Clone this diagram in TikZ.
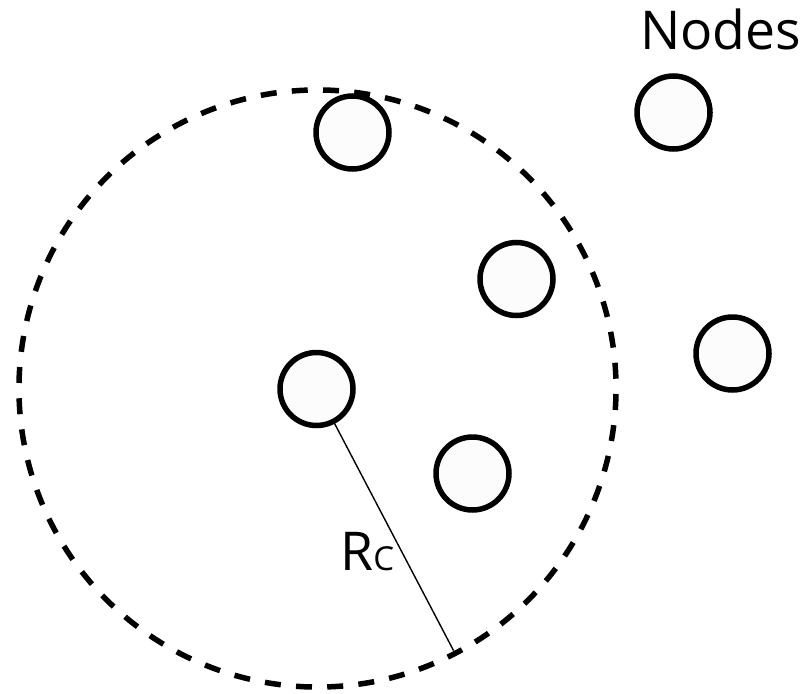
\documentclass[tikz,border=0pt]{standalone}
\usepackage{fontspec}
\setmainfont{Open Sans}
\begin{document}
\begin{tikzpicture}[x=1pt,y=-1pt,
  sensor/.style={circle, draw=black, line width=5.5pt, fill=white!99!black,
    minimum size=73pt, inner sep=0pt, outer sep=0pt},
  commrange/.style={draw=black, line width=5.5pt,
    dash pattern=on 16pt off 15.26pt, dash phase=8pt},
  radius line/.style={draw=black, line width=1.4pt},
  label text/.style={inner sep=0pt, font=\fontsize{53.5}{53.5}\selectfont}]
  \useasboundingbox (0,0) rectangle (805,693);

  % communication range around the central node
  \coordinate (rc) at (317.5,388.5);
  \draw[commrange] (rc) ++(62.6:298.5) arc[start angle=62.6, end angle=422.6, radius=298.5];

  % nodes
  \node[sensor] (c0) at (316.5,389) {};
  \node[sensor] (n1) at (352.5,132.5) {};
  \node[sensor] (n2) at (673.5,112.5) {};
  \node[sensor] (n3) at (516.5,279) {};
  \node[sensor] (n4) at (732.5,353.5) {};
  \node[sensor] (n5) at (472.5,473.5) {};

  % radius
  \coordinate (rim) at (453.5,650.5);
  \draw[radius line] (c0) -- (rim);

  \node[label text, anchor=base west] (rclabel) at (340,570)
    {R\fontsize{33}{33}\selectfont C};
  \node[label text, anchor=base west] (title) at (640,50) {Nodes};
\end{tikzpicture}
\end{document}
